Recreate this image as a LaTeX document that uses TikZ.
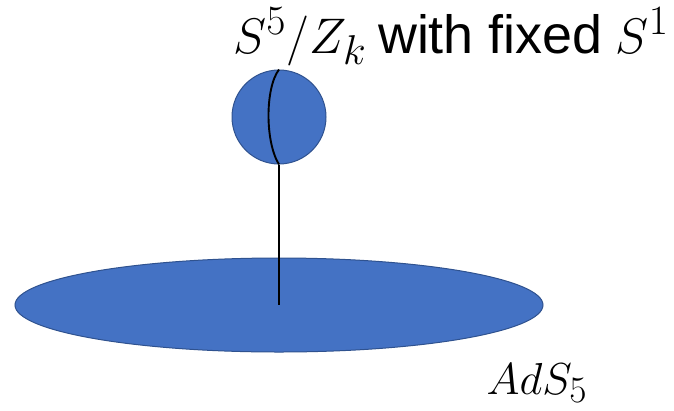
\documentclass[tikz,border=0pt]{standalone}
\usepackage{fontspec}
\newfontfamily\labelsans{Liberation Sans}
\usetikzlibrary{shapes.geometric}
\definecolor{blobfill}{HTML}{4472C4}
\definecolor{blobedge}{HTML}{2F528F}
\tikzset{
  blob/.style={fill=blobfill,draw=blobedge,line width=1pt,inner sep=0pt},
  wire/.style={draw=black,line width=2.3pt},
  bigtext/.style={inner sep=0pt,scale=2.01,font=\fontsize{24.88}{30}\selectfont}
}
\begin{document}
\begin{tikzpicture}[x=1pt,y=-1pt]
\useasboundingbox (0,0) rectangle (674,410);
\node[blob,ellipse,minimum width=528pt,minimum height=94pt] (disk) at (279,305) {};
\node[blob,circle,minimum size=94pt] (ball) at (279,117) {};
\coordinate (foot) at (279,305);
\draw[wire] (ball.south) -- (foot);
\draw[wire,line width=1.9pt] (ball.north) .. controls (265,88) and (265,142) .. (ball.south);
\node[bigtext,anchor=base west] (title) at (233,53) {\makebox[72pt][l]{$S^5/Z_k$}{\labelsans\fontsize{26.8}{32}\selectfont with fixed}\hspace{6.5pt}$S^1$};
\node[inner sep=0pt,scale=1.8,font=\fontsize{24.88}{30}\selectfont,anchor=base] (ads) at (537,394) {$AdS_5$};
\end{tikzpicture}
\end{document}
